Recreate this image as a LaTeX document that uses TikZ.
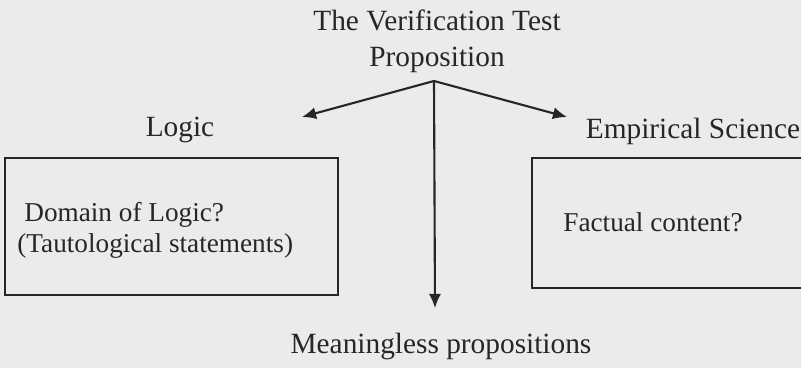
\documentclass[tikz,border=0pt]{standalone}
\usepackage{fontspec}
\setmainfont{Liberation Serif}
\usepackage{tikz}
\usetikzlibrary{positioning, arrows.meta}

\begin{document}
\begin{tikzpicture}[
    >={Latex[length=8pt, width=7pt]},
    % Styles
    label/.style={font=\fontsize{16.7}{20.5}\selectfont, text=black!85,
        inner sep=1pt, align=center},
    boxtext/.style={font=\fontsize{15.5}{17.5}\selectfont, text=black!85,
        inner sep=0pt, align=left, anchor=west},
    frame/.style={draw=black!85, line width=1.2pt},
    arr/.style={->, line width=1.2pt, draw=black!85, fill=black!85},
]

% ===== Page and background =====
\useasboundingbox[fill=black!8] (0,0) rectangle (16.02,7.36);

% ===== Title =====
\node[label] (title) at (8.74,6.54) {The Verification Test\\Proposition};
\coordinate (fork) at (8.68,5.74);

% ===== Branch targets =====
\coordinate (logicend) at (6.04,5.02);
\coordinate (sciend) at (11.34,5.02);
\coordinate (meanend) at (8.70,1.20);

\node[label] (logic) at (3.60,4.76) {Logic};
\node[label] (science) at (13.86,4.74) {Empirical Science};

% ===== Boxes =====
\begin{scope}
\clip (0,0) rectangle (16.02,7.36);
\draw[frame] (0.10,1.46) rectangle (6.76,4.20);
\draw[frame] (10.64,1.60) rectangle (16.30,4.20);
\end{scope}

\node[boxtext] (logicbox) at (0.34,2.76)
    {\hspace{0.14cm}Domain of Logic?\\(Tautological statements)};
\node[boxtext] (scibox) at (11.26,2.92) {Factual content?};

% ===== Bottom =====
\node[label] (meaning) at (8.82,0.44) {Meaningless propositions};

% ===== Arrows =====
\draw[arr] (fork) -- (logicend);
\draw[arr] (fork) -- (sciend);
\draw[arr] (fork) -- (meanend);

\end{tikzpicture}
\end{document}
